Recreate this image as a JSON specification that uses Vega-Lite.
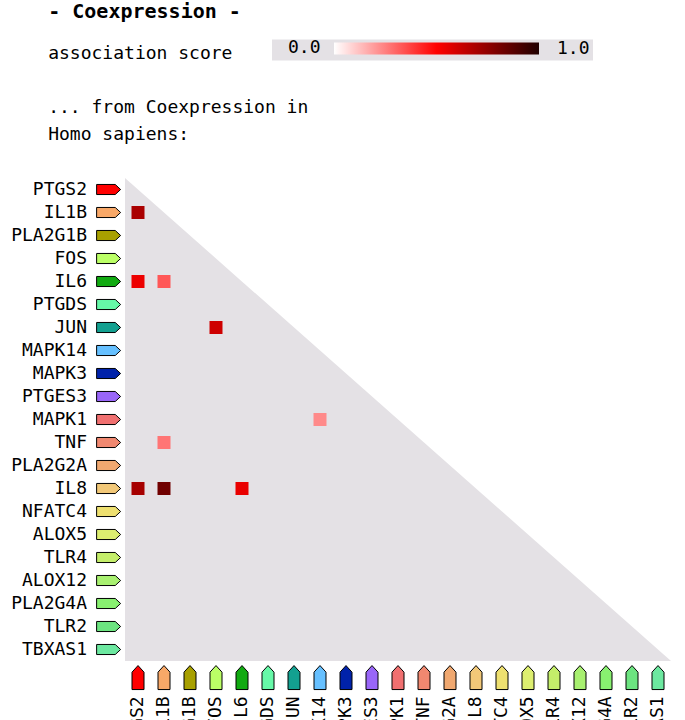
{
  "$schema": "https://vega.github.io/schema/vega-lite/v6.json",
  "width": 546,
  "height": 483,
  "padding": {"left": 11, "top": 1, "right": 5, "bottom": 0},
  "background": "white",
  "config": {"view": {"stroke": null}, "font": "DejaVu Sans Mono"},
  "title": {
    "text": "- Coexpression -",
    "subtitle": ["association score", "\u2800", "... from Coexpression in", "Homo sapiens:"],
    "anchor": "start",
    "frame": "bounds",
    "dx": 37,
    "offset": -104,
    "font": "DejaVu Sans Mono",
    "fontSize": 20,
    "fontWeight": "bold",
    "color": "black",
    "subtitleFont": "DejaVu Sans Mono",
    "subtitleFontSize": 18,
    "subtitleColor": "black",
    "subtitleLineHeight": 27,
    "subtitlePadding": 23
  },
  "datasets": {
    "genes": [
      {"gene": "PTGS2", "idx": 0, "color": "#ff0000"},
      {"gene": "IL1B", "idx": 1, "color": "#f8a868"},
      {"gene": "PLA2G1B", "idx": 2, "color": "#a8a000"},
      {"gene": "FOS", "idx": 3, "color": "#bbff66"},
      {"gene": "IL6", "idx": 4, "color": "#11aa11"},
      {"gene": "PTGDS", "idx": 5, "color": "#66f8a8"},
      {"gene": "JUN", "idx": 6, "color": "#13a090"},
      {"gene": "MAPK14", "idx": 7, "color": "#66c0ff"},
      {"gene": "MAPK3", "idx": 8, "color": "#0022aa"},
      {"gene": "PTGES3", "idx": 9, "color": "#9966f8"},
      {"gene": "MAPK1", "idx": 10, "color": "#f07070"},
      {"gene": "TNF", "idx": 11, "color": "#f08870"},
      {"gene": "PLA2G2A", "idx": 12, "color": "#f0a870"},
      {"gene": "IL8", "idx": 13, "color": "#f2c878"},
      {"gene": "NFATC4", "idx": 14, "color": "#eee070"},
      {"gene": "ALOX5", "idx": 15, "color": "#ddee70"},
      {"gene": "TLR4", "idx": 16, "color": "#c4ee6a"},
      {"gene": "ALOX12", "idx": 17, "color": "#a8f070"},
      {"gene": "PLA2G4A", "idx": 18, "color": "#88f070"},
      {"gene": "TLR2", "idx": 19, "color": "#6ce480"},
      {"gene": "TBXAS1", "idx": 20, "color": "#6ce8a0"}
    ],
    "cells": [
      {"row": 1, "col": 0, "score": 0.69},
      {"row": 4, "col": 0, "score": 0.54},
      {"row": 4, "col": 1, "score": 0.33},
      {"row": 6, "col": 3, "score": 0.61},
      {"row": 10, "col": 7, "score": 0.23},
      {"row": 11, "col": 1, "score": 0.27},
      {"row": 13, "col": 0, "score": 0.7},
      {"row": 13, "col": 1, "score": 0.82},
      {"row": 13, "col": 4, "score": 0.55}
    ],
    "tri": [
      {"tx": -0.5, "ty": -0.5},
      {"tx": 20.5, "ty": 20.5}
    ]
  },
  "layer": [
    {
      "data": {"name": "tri"},
      "mark": {"type": "area", "color": "#e4e1e5", "opacity": 1},
      "encoding": {
        "x": {"field": "tx", "type": "quantitative", "axis": null,
              "scale": {"domain": [-0.5, 20.5], "nice": false, "zero": false}},
        "y": {"field": "ty", "type": "quantitative", "axis": null,
              "scale": {"domain": [-0.5, 20.5], "nice": false, "zero": false, "reverse": true}},
        "y2": {"datum": 20.5}
      }
    },
    {
      "data": {"name": "cells"},
      "mark": {"type": "square", "size": 169, "filled": true, "opacity": 1, "strokeWidth": 0},
      "encoding": {
        "x": {"field": "col", "type": "quantitative"},
        "y": {"field": "row", "type": "quantitative"},
        "color": {
          "field": "score",
          "type": "quantitative",
          "scale": {"domain": [0, 0.5, 1], "range": ["#ffffff", "#ff0000", "#200000"], "interpolate": "rgb"},
          "legend": {
            "orient": "none",
            "legendX": 147,
            "legendY": -138.5,
            "direction": "horizontal",
            "title": "\u28000.0",
            "titleOrient": "left",
            "titlePadding": 13,
            "titleFont": "DejaVu Sans Mono",
            "titleFontSize": 18,
            "titleFontWeight": "normal",
            "titleColor": "black",
            "titleAnchor": "middle",
            "titleBaseline": "middle",
            "gradientLength": 205,
            "gradientThickness": 12,
            "gradientStrokeWidth": 0,
            "values": [0, 1],
            "labelExpr": "datum.value == 1 ? '1.0' : ''",
            "labelFont": "DejaVu Sans Mono",
            "labelFontSize": 18,
            "labelColor": "black",
            "labelOffset": -6,
            "padding": 3,
            "fillColor": "#e4e1e5",
            "encoding": {"labels": {"dx": {"value": 18}, "align": {"value": "left"}, "baseline": {"value": "middle"}}}
          }
        }
      }
    },
    {
      "data": {"name": "genes"},
      "mark": {"type": "point", "shape": "M-1,-0.42L0.55,-0.42L1,0L0.55,0.42L-1,0.42Z", "size": 576, "filled": true, "opacity": 1, "stroke": "black", "strokeWidth": 1},
      "encoding": {
        "x": {"datum": -1.13, "type": "quantitative"},
        "y": {"field": "idx", "type": "quantitative"},
        "fill": {"field": "color", "type": "nominal", "scale": null}
      }
    },
    {
      "data": {"name": "genes"},
      "mark": {"type": "point", "shape": "M-0.5,1L-0.5,-0.45L0,-1L0.5,-0.45L0.5,1Z", "size": 576, "filled": true, "opacity": 1, "stroke": "black", "strokeWidth": 1},
      "encoding": {
        "x": {"field": "idx", "type": "quantitative"},
        "y": {"datum": 21.22, "type": "quantitative"},
        "fill": {"field": "color", "type": "nominal", "scale": null}
      }
    },
    {
      "data": {"name": "genes"},
      "mark": {"type": "text", "align": "right", "baseline": "middle", "font": "DejaVu Sans Mono", "fontSize": 18, "color": "black"},
      "encoding": {
        "x": {"datum": -1.96, "type": "quantitative"},
        "y": {"field": "idx", "type": "quantitative"},
        "text": {"field": "gene"}
      }
    },
    {
      "data": {"name": "genes"},
      "mark": {"type": "text", "align": "right", "baseline": "middle", "angle": 270, "font": "DejaVu Sans Mono", "fontSize": 18, "color": "black"},
      "encoding": {
        "x": {"field": "idx", "type": "quantitative"},
        "y": {"datum": 22.04, "type": "quantitative"},
        "text": {"field": "gene"}
      }
    }
  ]
}
